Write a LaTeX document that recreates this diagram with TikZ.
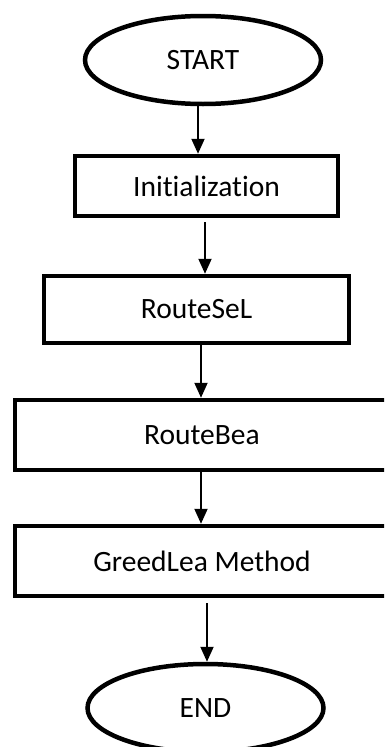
\documentclass[tikz,border=0pt]{standalone}
\usepackage{fontspec}
\setmainfont[Ligatures={NoCommon}]{Carlito}
\usetikzlibrary{shapes.geometric,arrows.meta}
\begin{document}
\begin{tikzpicture}[x=1pt,y=-1pt,
  lbl/.style={font=\fontsize{29.5}{35}\selectfont},
  term/.style={ellipse,draw,line width=4.5pt,minimum width=236pt,minimum height=88pt,inner sep=0pt,lbl},
  proc/.style={rectangle,draw,line width=4.5pt,inner sep=0pt,lbl},
  arr/.style={line width=2pt,-{Triangle[width=13pt,length=15pt]}}]
\useasboundingbox (0,0) rectangle (384,747);
\clip (0,0) rectangle (384,747);
\fill[white] (0,0) rectangle (384,747);
\node[term] (start) at (203,60) {START};
\node[proc,minimum width=263pt,minimum height=60pt] (init) at (206.5,186) {Initialization};
\node[proc,minimum width=305pt,minimum height=67pt] (sel) at (196.5,309.5) {RouteSeL};
\node[proc,minimum width=374pt,minimum height=70pt] (bea) at (202,435) {RouteBea};
\node[proc,minimum width=374pt,minimum height=70pt] (greed) at (202,561) {GreedLea Method};
\node[term] (end) at (205.5,708) {END};
\coordinate (a1) at (198,0);
\coordinate (a2) at (205,0);
\coordinate (a3) at (201,0);
\coordinate (a4) at (201,0);
\coordinate (a5) at (207,0);
\draw[arr] (start.south -| a1) -- (init.north -| a1);
\draw[arr,shorten <=4pt] (init.south -| a2) -- (sel.north -| a2);
\draw[arr] (sel.south -| a3) -- (bea.north -| a3);
\draw[arr] (bea.south -| a4) -- (greed.north -| a4);
\draw[arr,shorten <=5pt] (greed.south -| a5) -- (end.north -| a5);
\end{tikzpicture}
\end{document}
